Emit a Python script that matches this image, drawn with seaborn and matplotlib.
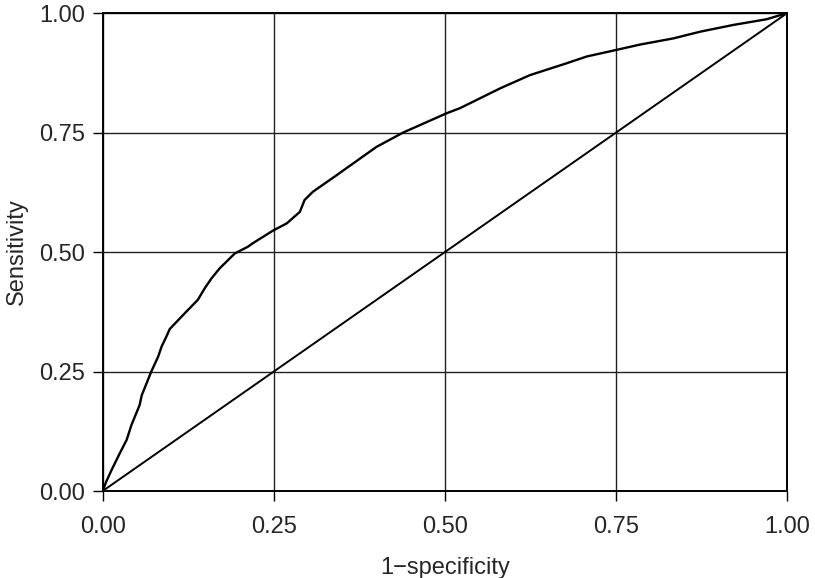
import numpy as np
import pandas as pd
import matplotlib
matplotlib.use('Agg')
import matplotlib.pyplot as plt
import seaborn as sns

# ROC curve points
fpr = [0.0, 0.005, 0.013, 0.025, 0.035, 0.042, 0.054, 0.057, 0.064, 0.071,
       0.081, 0.086, 0.093, 0.098, 0.122, 0.139, 0.149, 0.159, 0.171, 0.193,
       0.212, 0.220, 0.249, 0.269, 0.288, 0.295, 0.307, 0.342, 0.400, 0.439,
       0.502, 0.522, 0.580, 0.624, 0.678, 0.707, 0.751, 0.785, 0.834, 0.873,
       0.921, 0.970, 1.0]
tpr = [0.0, 0.019, 0.044, 0.079, 0.107, 0.138, 0.180, 0.200, 0.225, 0.250,
       0.281, 0.302, 0.323, 0.339, 0.375, 0.400, 0.424, 0.445, 0.466, 0.497,
       0.511, 0.519, 0.545, 0.560, 0.584, 0.609, 0.626, 0.661, 0.720, 0.750,
       0.790, 0.801, 0.842, 0.870, 0.895, 0.909, 0.923, 0.934, 0.947, 0.961,
       0.975, 0.987, 1.0]
ref_x = [0.0, 1.0]
ref_y = [0.0, 1.0]
ticks = [0.0, 0.25, 0.5, 0.75, 1.0]
tick_labels = ['0.00', '0.25', '0.50', '0.75', '1.00']

sns.set_style('white')
plt.rcParams['font.family'] = ['Liberation Sans', 'DejaVu Sans']

fig = plt.figure(figsize=(8.15, 5.78), dpi=100)
ax = fig.add_axes([0.126, 0.1505, 0.84, 0.827])

df = pd.DataFrame({'x': fpr, 'y': tpr})
sns.lineplot(data=df, x='x', y='y', ax=ax, color='black', linewidth=1.7,
             sort=False, estimator=None, zorder=3)
sns.lineplot(x=ref_x, y=ref_y, ax=ax, color='black', linewidth=1.4, zorder=3)

ax.set_xlim(0, 1)
ax.set_ylim(0, 1)
ax.set_xticks(ticks)
ax.set_yticks(ticks)
ax.set_xticklabels(tick_labels)
ax.set_yticklabels(tick_labels)
ax.grid(True, color='#222222', linewidth=1.0)
ax.set_axisbelow(True)
for s in ax.spines.values():
    s.set_color('black')
    s.set_linewidth(1.4)
ax.tick_params(axis='both', direction='out', length=7, width=1.0, color='black',
               labelsize=17, bottom=True, left=True)
ax.tick_params(axis='x', pad=11)
ax.tick_params(axis='y', pad=6)
ax.set_xlabel('1\u2212specificity', fontsize=17, labelpad=14)
ax.set_ylabel('Sensitivity', fontsize=17, labelpad=8)

fig.savefig('out.png', dpi=100)
